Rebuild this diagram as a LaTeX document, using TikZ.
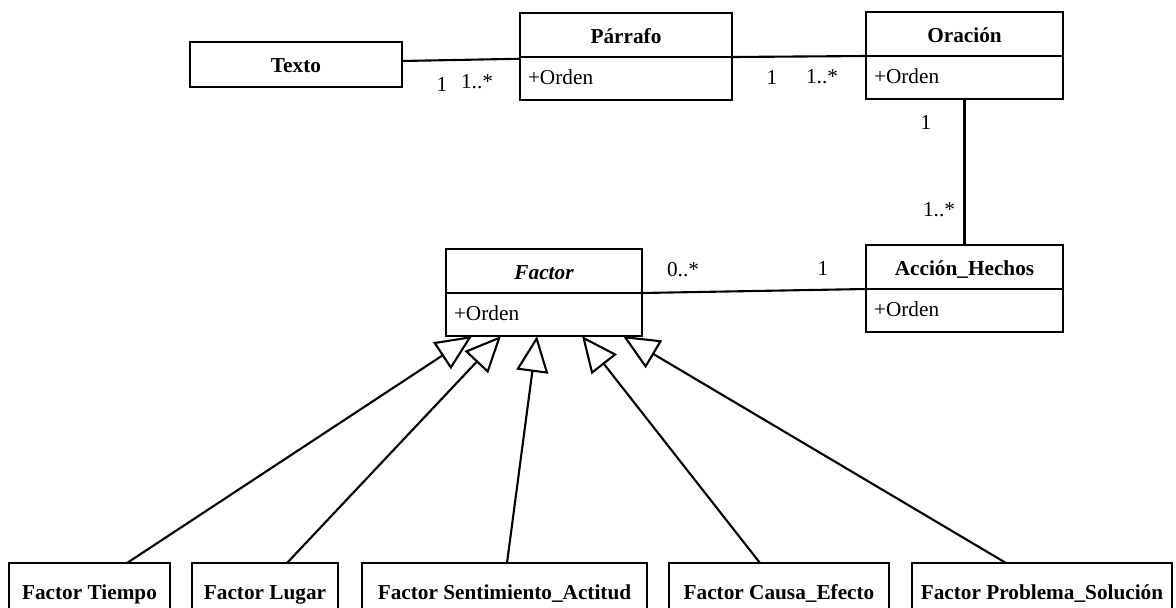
\documentclass[tikz,border=0pt]{standalone}
\usepackage{fontspec}
\setmainfont{Liberation Serif}
\usetikzlibrary{arrows.meta}
\tikzset{
  box/.style={draw, line width=1.5pt, outer sep=0pt, text height=2.6ex, text depth=0.5ex, font=\fontsize{12.1}{14}\selectfont},
  head/.style={box, anchor=north west, minimum width=#1, minimum height=0.88cm, font=\fontsize{12.1}{14}\selectfont\bfseries},
  attr/.style={box, anchor=north west, text width=#1, align=left, inner xsep=0.16cm, text height=2.1ex, minimum height=0.86cm},
  sub/.style={box, anchor=north west, minimum width=#1, minimum height=1.12cm, font=\fontsize{12.1}{14}\selectfont\bfseries},
  mult/.style={font=\fontsize{12.1}{14}\selectfont, inner sep=0pt},
  assoc/.style={line width=1.2pt},
  gen/.style={line width=1.2pt, -{Triangle[open, length=0.72cm, width=0.64cm, fill=white]}},
}
\begin{document}
\begin{tikzpicture}
        \useasboundingbox (0,0) rectangle (23.52,-12.14);
        % classes
        \node[box, minimum width=4.24cm, minimum height=0.9cm, font=\fontsize{12.1}{14}\selectfont\bfseries] (texto) at (5.92,-1.29) {Texto};
        \node[head=4.24cm] (parrafo) at (10.4,-0.26) {Párrafo};
        \node[attr=3.92cm] (parrafoA) at (parrafo.south west) {+Orden};
        \node[head=3.94cm] (oracion) at (17.32,-0.24) {Oración};
        \node[attr=3.62cm] (oracionA) at (oracion.south west) {+Orden};
        \node[head=3.94cm] (accion) at (17.32,-4.9) {Acción\_Hechos};
        \node[attr=3.62cm] (accionA) at (accion.south west) {+Orden};
        \node[head=3.92cm, font=\fontsize{12.1}{14}\selectfont\bfseries\itshape] (factor) at (8.92,-4.98) {Factor};
        \node[attr=3.6cm] (factorA) at (factor.south west) {+Orden};

        % subclasses
        \node[sub=3.22cm] (tiempo) at (0.18,-11.26) {Factor Tiempo};
        \node[sub=2.92cm] (lugar) at (3.84,-11.26) {Factor Lugar};
        \node[sub=5.7cm] (sentim) at (7.24,-11.26) {Factor Sentimiento\_Actitud};
        \node[sub=4.4cm] (causa) at (13.38,-11.26) {Factor Causa\_Efecto};
        \node[sub=5.2cm] (problema) at (18.24,-11.26) {Factor Problema\_Solución};

        % associations
        \draw[assoc] ([yshift=2pt]texto.east) -- ([yshift=-1pt]parrafo.south west);
        \draw[assoc] (parrafo.south east) -- (oracion.south west);
        \draw[assoc, line width=1.5pt] (oracionA.south) -- (accion.north);
        \draw[assoc] (factor.south east) -- (accion.south west);

        \node[mult] (m1) at (8.84,-1.68) {1};
        \node[mult] (m2) at (9.54,-1.64) {1..*};
        \node[mult] (m3) at (15.44,-1.54) {1};
        \node[mult] (m4) at (16.44,-1.54) {1..*};
        \node[mult] (m5) at (18.52,-2.44) {1};
        \node[mult] (m6) at (18.78,-4.2) {1..*};
        \node[mult] (m7) at (13.66,-5.4) {0..*};
        \node[mult] (m8) at (16.46,-5.36) {1};

        % generalizations
        \draw[gen] ([xshift=0.75cm]tiempo.north) -- ([xshift=-1.44cm]factorA.south);
        \draw[gen] ([xshift=0.44cm]lugar.north) -- ([xshift=-0.86cm]factorA.south);
        \draw[gen] ([xshift=0.05cm]sentim.north) -- ([xshift=-0.14cm]factorA.south);
        \draw[gen] ([xshift=-0.38cm]causa.north) -- ([xshift=0.76cm]factorA.south);
        \draw[gen] ([xshift=-0.72cm]problema.north) -- ([xshift=1.58cm]factorA.south);

    \end{tikzpicture}
\end{document}
